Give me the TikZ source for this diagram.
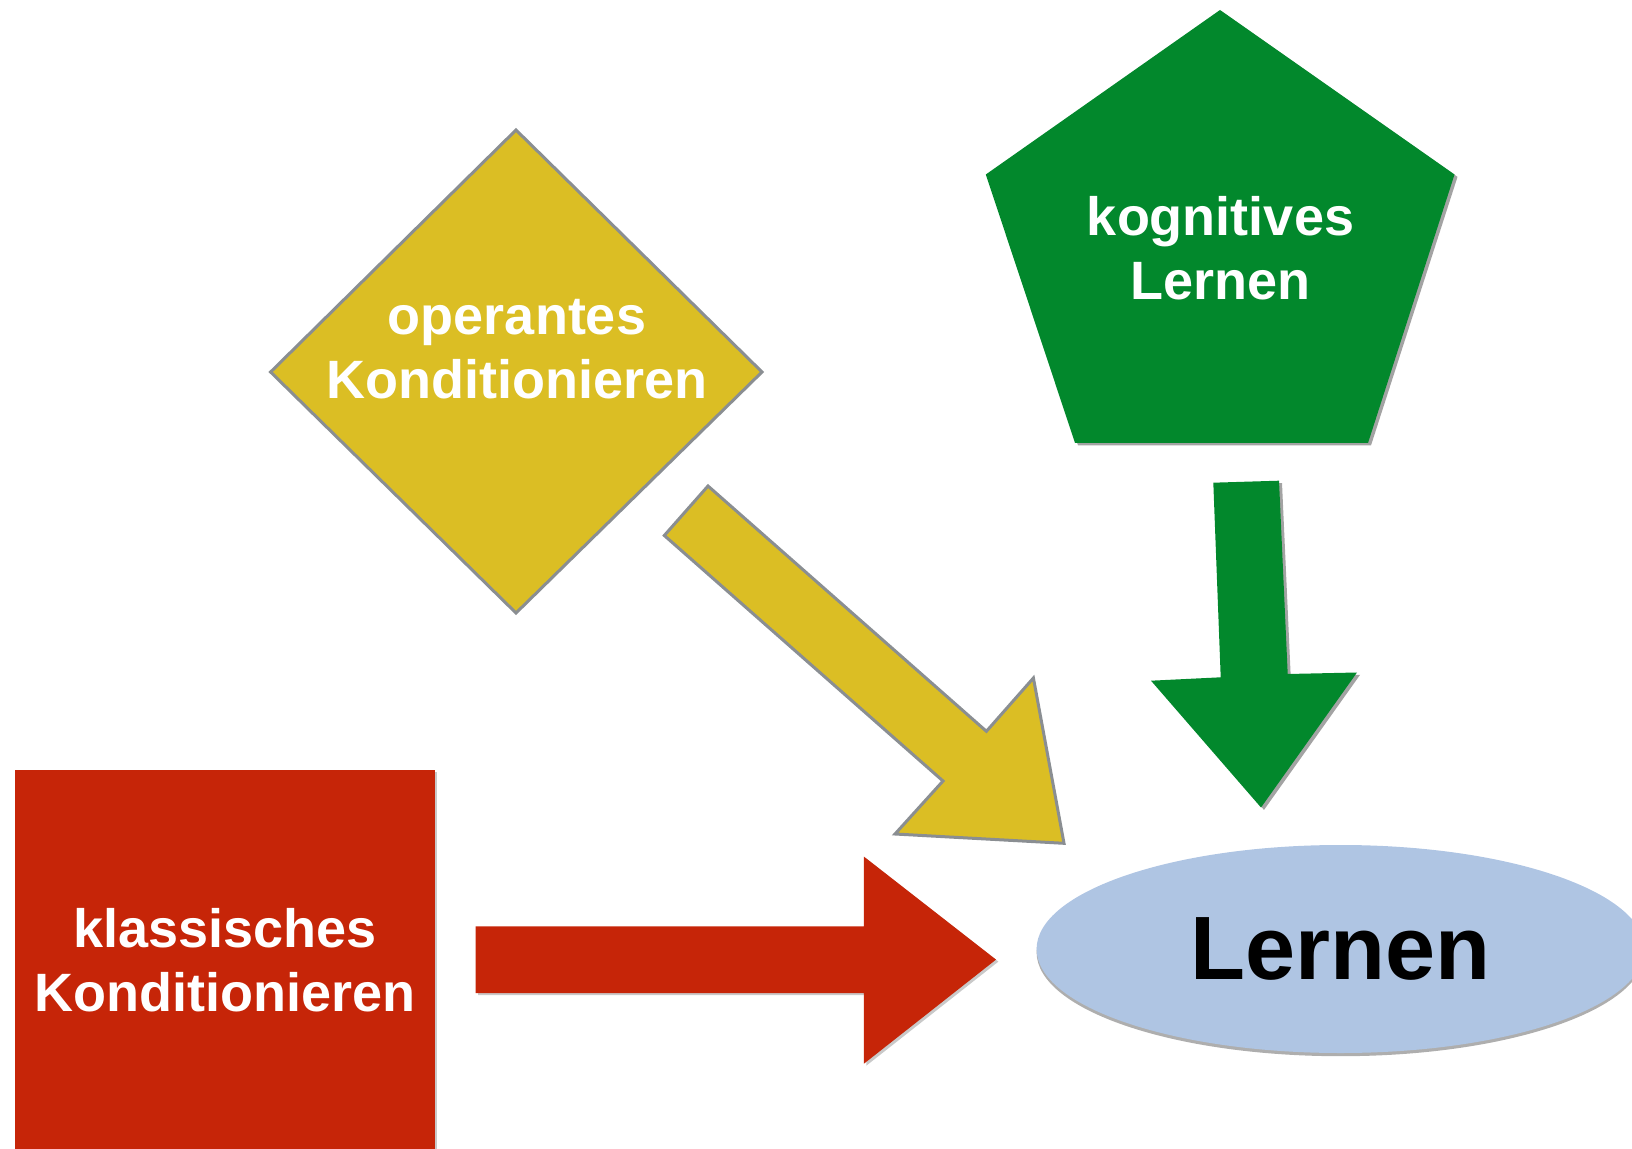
\documentclass[tikz,border=0pt]{standalone}
\usepackage{fontspec}
\setmainfont{Liberation Sans}
\usetikzlibrary{shapes.geometric,shadows}
\definecolor{goldfill}{HTML}{DBBE24}
\definecolor{grayline}{HTML}{8A8E92}
\definecolor{greenfill}{HTML}{02882C}
\definecolor{redfill}{HTML}{C62508}
\definecolor{bluefill}{HTML}{AFC5E3}
\tikzset{
  goldshape/.style={fill=goldfill, draw=grayline, line width=1.5pt, line join=miter},
  greenshape/.style={fill=greenfill, drop shadow={shadow xshift=1.5pt, shadow yshift=-1.2pt, opacity=0.45, fill=black!80}},
  redshape/.style={fill=redfill, drop shadow={shadow xshift=1.2pt, shadow yshift=-1pt, opacity=0.3, fill=black!70}},
  whitelabel/.style={text=white, inner sep=0pt, font=\fontsize{27}{32}\selectfont\bfseries, anchor=base},
  bigellipse/.style={ellipse, fill=bluefill, inner sep=0pt, minimum width=304pt, minimum height=104pt,
    font=\fontsize{45}{54}\selectfont\bfseries, text=black,
    drop shadow={shadow xshift=0pt, shadow yshift=-1.6pt, opacity=0.45, fill=black!70}}
}
\begin{document}
\begin{tikzpicture}[x=0.5pt, y=-0.5pt]
\useasboundingbox (0,0) rectangle (1632,1149);
\begin{scope}
\clip (0,0) rectangle (1632,1149);

% red square
\path[redshape] (14.6,770) rectangle (434.5,1170);

% yellow diamond
\path[goldshape] (516,130) -- (762,372) -- (516,613) -- (270.6,372) -- cycle;

% green pentagon
\path[greenshape] (1220,10) -- (1454.5,174.5) -- (1368,443) -- (1075,443) -- (985.8,174.5) -- cycle;

% yellow arrow
\path[goldshape] (708,486) -- (986.4,731.3) -- (1033.4,678) -- (1064,843.3) -- (895,834) -- (943,781) -- (664.3,535.5) -- cycle;

% green arrow
\path[greenshape] (1213.3,482.7) -- (1279,480.7) -- (1287.7,674) -- (1357,672.5) -- (1261,807.5) -- (1151,680.7) -- (1220.7,677.3) -- cycle;

% red arrow
\path[redshape] (475.6,926.3) -- (863.9,926.3) -- (863.9,856.6) -- (996,959.6) -- (863.9,1063.7) -- (863.9,993) -- (475.6,993) -- cycle;

% ellipse
\node[bigellipse] (lernen) at (1340.6,949) {Lernen};
\end{scope}

% labels
\node[whitelabel] (operant) at (517,398.3) {\begin{tabular}[b]{@{}c@{}}operantes\\Konditionieren\end{tabular}};
\node[whitelabel] (kognitiv) at (1220.5,300) {\begin{tabular}[b]{@{}c@{}}kognitives\\Lernen\end{tabular}};
\node[whitelabel] (klassisch) at (224.7,1011.7) {\begin{tabular}[b]{@{}c@{}}klassisches\\Konditionieren\end{tabular}};
\end{tikzpicture}
\end{document}
